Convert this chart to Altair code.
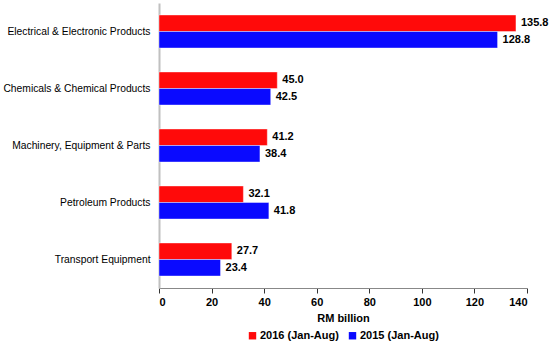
import altair as alt
import pandas as pd

categories = ["Electrical & Electronic Products", "Chemicals & Chemical Products",
              "Machinery, Equipment & Parts", "Petroleum Products", "Transport Equipment"]
series = ["2016 (Jan-Aug)", "2015 (Jan-Aug)"]
values_2016 = [135.8, 45.0, 41.2, 32.1, 27.7]
values_2015 = [128.8, 42.5, 38.4, 41.8, 23.4]
colors = ["#FF0A0A", "#0A0AFF"]

FONT = "Liberation Sans"

rows = []
for c, a, b in zip(categories, values_2016, values_2015):
    rows.append({"cat": c, "series": series[0], "value": a, "label": f"{a:.1f}"})
    rows.append({"cat": c, "series": series[1], "value": b, "label": f"{b:.1f}"})
df = pd.DataFrame(rows)

y = alt.Y("cat:N", sort=categories, title=None,
          scale=alt.Scale(paddingInner=0.42, paddingOuter=0.21),
          axis=alt.Axis(labelFont=FONT, labelFontSize=10.3, labelColor="#000",
                        labelLimit=200, ticks=False, domainColor="#C0C0C0",
                        domainWidth=2, labelPadding=9))
yoff = alt.YOffset("series:N", sort=series)
x = alt.X("value:Q", title="RM billion",
          scale=alt.Scale(domain=[0, 140], nice=False),
          axis=alt.Axis(values=list(range(0, 141, 20)), grid=False,
                        labelFont=FONT, labelFontSize=11, labelFontWeight="bold",
                        labelColor="#000", titleFont=FONT, titleFontSize=11,
                        titleFontWeight="bold", titleColor="#000",
                        tickColor="#333", tickSize=5, domainColor="#888",
                        labelPadding=3, titlePadding=5))

bars = alt.Chart(df).mark_bar(stroke="#ffffff", strokeOpacity=0.4, strokeWidth=1).encode(
    x=x, y=y, yOffset=yoff,
    color=alt.Color("series:N", sort=series,
                    scale=alt.Scale(domain=series, range=colors),
                    legend=alt.Legend(title=None, orient="none", direction="horizontal",
                                      legendX=88, legendY=327, symbolType="square",
                                      symbolSize=55, symbolStrokeWidth=0,
                                      labelFont=FONT, labelFontSize=11,
                                      labelFontWeight="bold", labelColor="#000",
                                      columnPadding=8, labelOffset=2))
)

text = alt.Chart(df).mark_text(align="left", baseline="middle", dx=5,
                               font=FONT, fontSize=11, fontWeight="bold",
                               color="#000").encode(
    x="value:Q", y=alt.Y("cat:N", sort=categories), yOffset=yoff, text="label:N"
)

chart = (bars + text).properties(
    width=368, height=285,
    autosize=alt.AutoSizeParams(type="none"),
    padding={"left": 159, "top": 3, "right": 23, "bottom": 62},
).configure_view(stroke=None)

chart.save("out.html", embed_options={"renderer": "svg", "actions": False})
